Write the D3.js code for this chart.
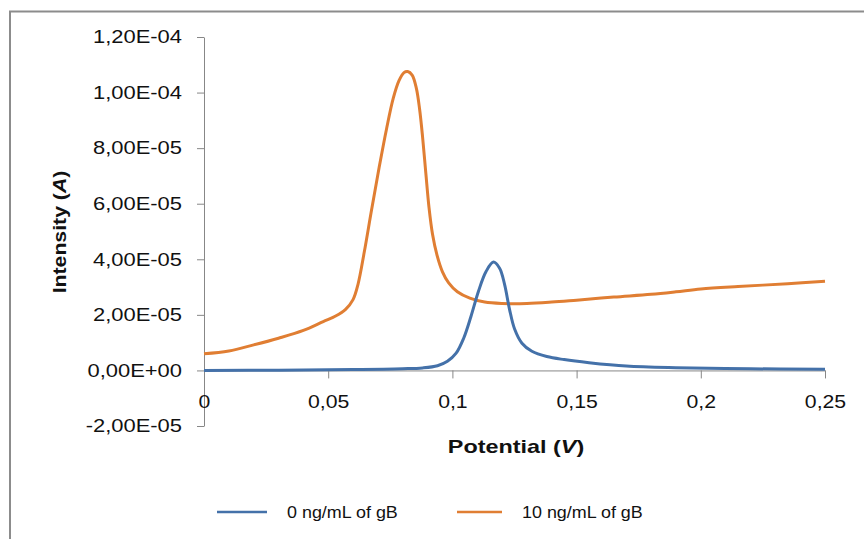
<!DOCTYPE html>
<html>
<head>
<meta charset="utf-8">
<script src="https://cdn.jsdelivr.net/npm/d3@7/dist/d3.min.js"></script>
<style>
  html, body { margin: 0; padding: 0; background: #fff; }
  svg { display: block; }
  text { font-family: "Liberation Sans", Arial, sans-serif; fill: #111; }
</style>
</head>
<body>
<svg id="chart" width="864" height="539"></svg>
<script>
// Differential pulse voltammetry: blank vs. 10 ng/mL gB
const blankPotential = [0, 0.03, 0.06, 0.08, 0.088, 0.094, 0.098, 0.1015, 0.1045, 0.1075, 0.1105, 0.1135,
  0.1165, 0.1190, 0.1210, 0.1230, 0.1250, 0.1280, 0.1320, 0.1380, 0.1450, 0.1550, 0.1700, 0.1900,
  0.2200, 0.2500];
const blankIntensity = [0, 0.1e-6, 0.3e-6, 0.6e-6, 0.9e-6, 1.7e-6, 3.3e-6, 6.2e-6, 11.5e-6, 19.5e-6, 28.5e-6, 35.5e-6,
  39.0e-6, 36.8e-6, 31.0e-6, 22.0e-6, 15.0e-6, 9.8e-6, 6.9e-6, 5.0e-6, 3.9e-6, 2.8e-6, 1.6e-6, 1.0e-6,
  0.6e-6, 0.4e-6];

const gbPotential = [0, 0.01, 0.02, 0.03, 0.04, 0.048, 0.053, 0.057, 0.060, 0.062, 0.0645, 0.0675,
  0.0705, 0.0735, 0.0762, 0.0785, 0.0805, 0.0820, 0.0838, 0.0855, 0.0868, 0.0880, 0.0893, 0.0906,
  0.0920, 0.0938, 0.0960, 0.0985, 0.1020, 0.1070, 0.1130, 0.1200, 0.1300, 0.1400, 0.1500, 0.1650,
  0.1800, 0.1900, 0.2000, 0.2150, 0.2350, 0.2500];
const gbIntensity = [6.0e-6, 7.0e-6, 9.2e-6, 11.6e-6, 14.4e-6, 17.6e-6, 19.6e-6, 22.0e-6, 25.5e-6, 31.0e-6, 42.5e-6, 58.0e-6,
  73.0e-6, 87.0e-6, 98.0e-6, 104.3e-6, 107.2e-6, 107.6e-6, 106.3e-6, 101.5e-6, 94.0e-6, 84.0e-6, 71.0e-6, 58.5e-6,
  49.0e-6, 41.5e-6, 35.5e-6, 31.5e-6, 28.3e-6, 26.0e-6, 24.6e-6, 24.1e-6, 24.1e-6, 24.6e-6, 25.3e-6, 26.4e-6,
  27.4e-6, 28.3e-6, 29.3e-6, 30.2e-6, 31.2e-6, 32.1e-6];

const seriesNames = ["0 ng/mL of gB", "10 ng/mL of gB"];
const seriesColors = ["#4471a9", "#e07e33"];
const xTicks = [0, 0.05, 0.1, 0.15, 0.2, 0.25];
const yTicks = [-2e-5, 0, 2e-5, 4e-5, 6e-5, 8e-5, 1e-4, 1.2e-4];

const svg = d3.select("#chart");

// outer frame (top and left edges)
svg.append("path")
  .attr("d", "M10,539 L10,11.5 L864,11.5")
  .attr("fill", "none").attr("stroke", "#8c8c8c").attr("stroke-width", 2);

const x = d3.scaleLinear().domain([0, 0.25]).range([204, 825]);
const y = d3.scaleLinear().domain([-2e-5, 1.2e-4]).range([426, 37]);

const fmtExp = v => {
  if (v === 0) return "0,00E+00";
  const [m, e] = v.toExponential(2).split("e");
  const ev = parseInt(e, 10);
  return m.replace(".", ",") + "E" + (ev < 0 ? "-" : "+") + String(Math.abs(ev)).padStart(2, "0");
};
const fmtPot = v => String(+v.toFixed(2)).replace(".", ",");

// y axis
const gy = svg.append("g").attr("transform", `translate(${x(0)},0)`)
  .call(d3.axisLeft(y).tickValues(yTicks).tickFormat(fmtExp).tickSize(7).tickPadding(15).tickSizeOuter(0));
gy.select(".domain").attr("stroke", "#878787");
gy.selectAll(".tick line").attr("stroke", "#878787");
gy.selectAll(".tick text")
  .attr("font-size", 18).attr("font-family", null)
  .attr("transform", "translate(-22,0) scale(1.22,1)").attr("x", 0);

// x axis at zero intensity
const gx = svg.append("g").attr("transform", `translate(0,${y(0)})`)
  .call(d3.axisBottom(x).tickValues(xTicks).tickFormat(fmtPot).tickSize(8).tickPadding(17).tickSizeOuter(0));
gx.select(".domain").attr("stroke", "#878787");
gx.selectAll(".tick line").attr("stroke", "#878787");
gx.selectAll(".tick text")
  .attr("font-size", 18).attr("font-family", null)
  .attr("transform", "scale(1.18,1)");

// series lines
const line = d3.line().x(d => x(d[0])).y(d => y(d[1])).curve(d3.curveCatmullRom.alpha(0.5));
const blank = d3.zip(blankPotential, blankIntensity);
const gb = d3.zip(gbPotential, gbIntensity);

svg.append("path").datum(gb)
  .attr("d", line).attr("fill", "none")
  .attr("stroke", seriesColors[1]).attr("stroke-width", 3).attr("stroke-linejoin", "round");
svg.append("path").datum(blank)
  .attr("d", line).attr("fill", "none")
  .attr("stroke", seriesColors[0]).attr("stroke-width", 3).attr("stroke-linejoin", "round");

// axis titles
const xt = svg.append("text")
  .attr("transform", "translate(516,453) scale(1.3,1)")
  .attr("text-anchor", "middle").attr("font-size", 18).attr("font-weight", "bold");
xt.append("tspan").text("Potential (");
xt.append("tspan").attr("font-style", "italic").text("V");
xt.append("tspan").text(")");

const yt = svg.append("text")
  .attr("transform", "translate(66,232) rotate(-90) scale(1.18,1)")
  .attr("text-anchor", "middle").attr("font-size", 18).attr("font-weight", "bold");
yt.append("tspan").text("Intensity (");
yt.append("tspan").attr("font-style", "italic").text("A");
yt.append("tspan").text(")");

// legend
const legendX = [217, 457];
const legendTextX = [287, 522];
const legendLen = [50, 45];
seriesNames.forEach((name, i) => {
  svg.append("line")
    .attr("x1", legendX[i]).attr("x2", legendX[i] + legendLen[i])
    .attr("y1", 512).attr("y2", 512)
    .attr("stroke", seriesColors[i]).attr("stroke-width", 2.5);
  svg.append("text")
    .attr("transform", `translate(${legendTextX[i]},518) scale(1.12,1)`)
    .attr("font-size", 16).text(name);
});
</script>
</body>
</html>
